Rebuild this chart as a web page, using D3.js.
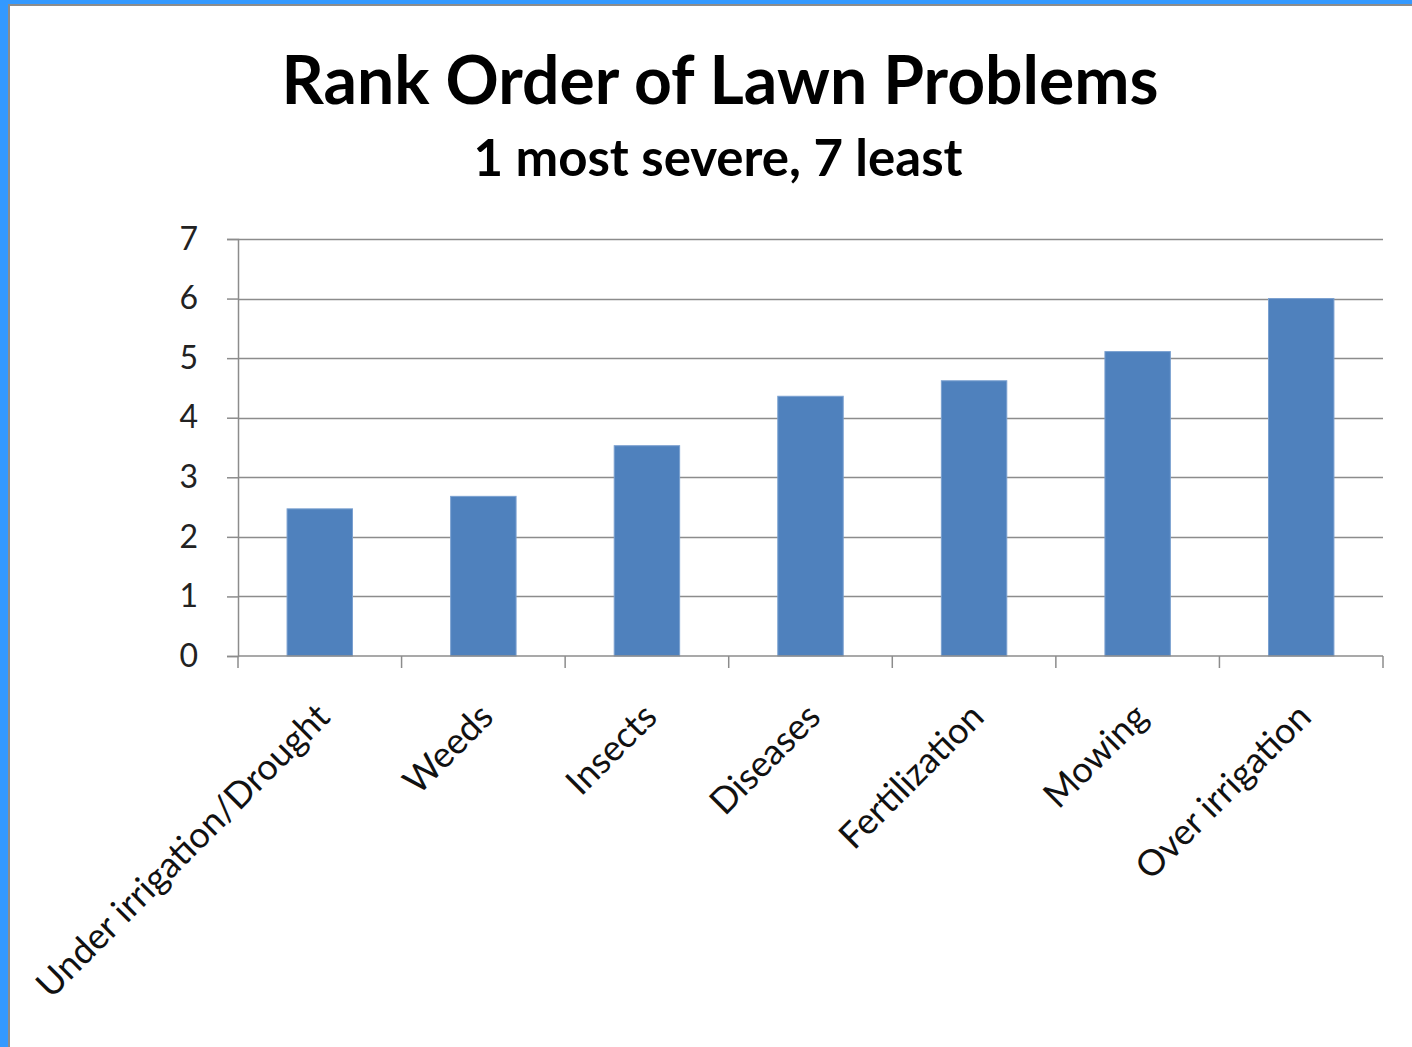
<!DOCTYPE html>
<html lang="en">
<head>
<meta charset="UTF-8" />
<title>Rank Order of Lawn Problems</title>
<style>
  html, body { margin: 0; padding: 0; background: #fff; }
  svg { display: block; }
  text { font-family: Lato, "Open Sans", sans-serif; }
</style>
</head>
<body>
<script src="https://cdn.jsdelivr.net/npm/d3@7"></script>
<div id="app"></div>
<script>
// data
const problems = ["Under irrigation/Drought", "Weeds", "Insects", "Diseases", "Fertilization", "Mowing", "Over irrigation"];
const ranks = [2.47, 2.68, 3.53, 4.36, 4.62, 5.11, 6.0];
const yTicks = [0, 1, 2, 3, 4, 5, 6, 7];

const w = 1412, h = 1047;
const margin = { top: 239, right: 29, bottom: 391, left: 238 };

const svg = d3.select("#app").append("svg")
  .attr("width", w)
  .attr("height", h);

// frame
svg.append("rect").attr("x", 0).attr("y", 0).attr("width", w).attr("height", h).attr("fill", "#3399ff");
svg.append("rect").attr("x", 8).attr("y", 4).attr("width", w - 8).attr("height", h - 4).attr("fill", "#8c8c8c");
svg.append("rect").attr("x", 10).attr("y", 6).attr("width", w - 10).attr("height", h - 6).attr("fill", "#fff");

// titles
svg.append("text")
  .attr("x", 720).attr("y", 104)
  .attr("text-anchor", "middle")
  .attr("font-weight", "bold")
  .attr("font-size", 66)
  .attr("fill", "#000")
  .text("Rank Order of Lawn Problems");

svg.append("text")
  .attr("x", 718).attr("y", 176)
  .attr("text-anchor", "middle")
  .attr("font-weight", "bold")
  .attr("font-size", 51)
  .attr("fill", "#000")
  .text("1 most severe, 7 least");

const x = d3.scaleBand()
  .domain(problems)
  .range([margin.left, w - margin.right])
  .paddingInner(0.6)
  .paddingOuter(0.3);

const xGrid = d3.scalePoint()
  .domain(d3.range(problems.length + 1))
  .range([margin.left, w - margin.right]);

const y = d3.scaleLinear()
  .domain([0, 7])
  .range([h - margin.bottom, margin.top]);

// gridlines
svg.append("g")
  .selectAll("line")
  .data(yTicks.slice(1))
  .join("line")
  .attr("x1", margin.left)
  .attr("x2", w - margin.right)
  .attr("y1", d => Math.round(y(d)) + 0.5)
  .attr("y2", d => Math.round(y(d)) + 0.5)
  .attr("stroke", "#8c8c8c")
  .attr("stroke-width", 1.5);

// bars
svg.append("g")
  .selectAll("rect")
  .data(ranks)
  .join("rect")
  .attr("x", (d, i) => x(problems[i]))
  .attr("width", x.bandwidth())
  .attr("y", d => y(d))
  .attr("height", d => y(0) - y(d))
  .attr("fill", "#4f81bd")
  .attr("stroke", "#7aa0d0")
  .attr("stroke-width", 1);

// y axis
const yAxis = d3.axisLeft(y)
  .tickValues(yTicks)
  .tickFormat(d3.format("d"))
  .tickSize(11)
  .tickPadding(29);

const gy = svg.append("g")
  .attr("transform", `translate(${margin.left},0)`)
  .call(yAxis);
gy.select(".domain").attr("stroke", "#8c8c8c").attr("stroke-width", 1.5);
gy.selectAll(".tick line").attr("stroke", "#8c8c8c").attr("stroke-width", 1.5);
gy.selectAll(".tick text")
  .attr("font-family", "Lato, sans-serif")
  .attr("font-size", 32)
  .attr("fill", "#222");

// x axis line and ticks at category boundaries
const gx = svg.append("g")
  .attr("transform", `translate(0,${y(0)})`);
gx.append("line")
  .attr("x1", margin.left).attr("x2", w - margin.right)
  .attr("y1", 0).attr("y2", 0)
  .attr("stroke", "#8c8c8c").attr("stroke-width", 1.5);
gx.selectAll(".xt")
  .data(xGrid.domain())
  .join("line")
  .attr("class", "xt")
  .attr("x1", d => xGrid(d)).attr("x2", d => xGrid(d))
  .attr("y1", 0).attr("y2", 12)
  .attr("stroke", "#8c8c8c").attr("stroke-width", 1.5);

// category labels
gx.selectAll(".xl")
  .data(problems)
  .join("text")
  .attr("class", "xl")
  .attr("text-anchor", "end")
  .attr("font-size", 36)
  .attr("fill", "#111")
  .attr("transform", d => `translate(${x(d) + x.bandwidth() / 2 + 12},${63}) rotate(-45)`)
  .text(d => d);
</script>
</body>
</html>
